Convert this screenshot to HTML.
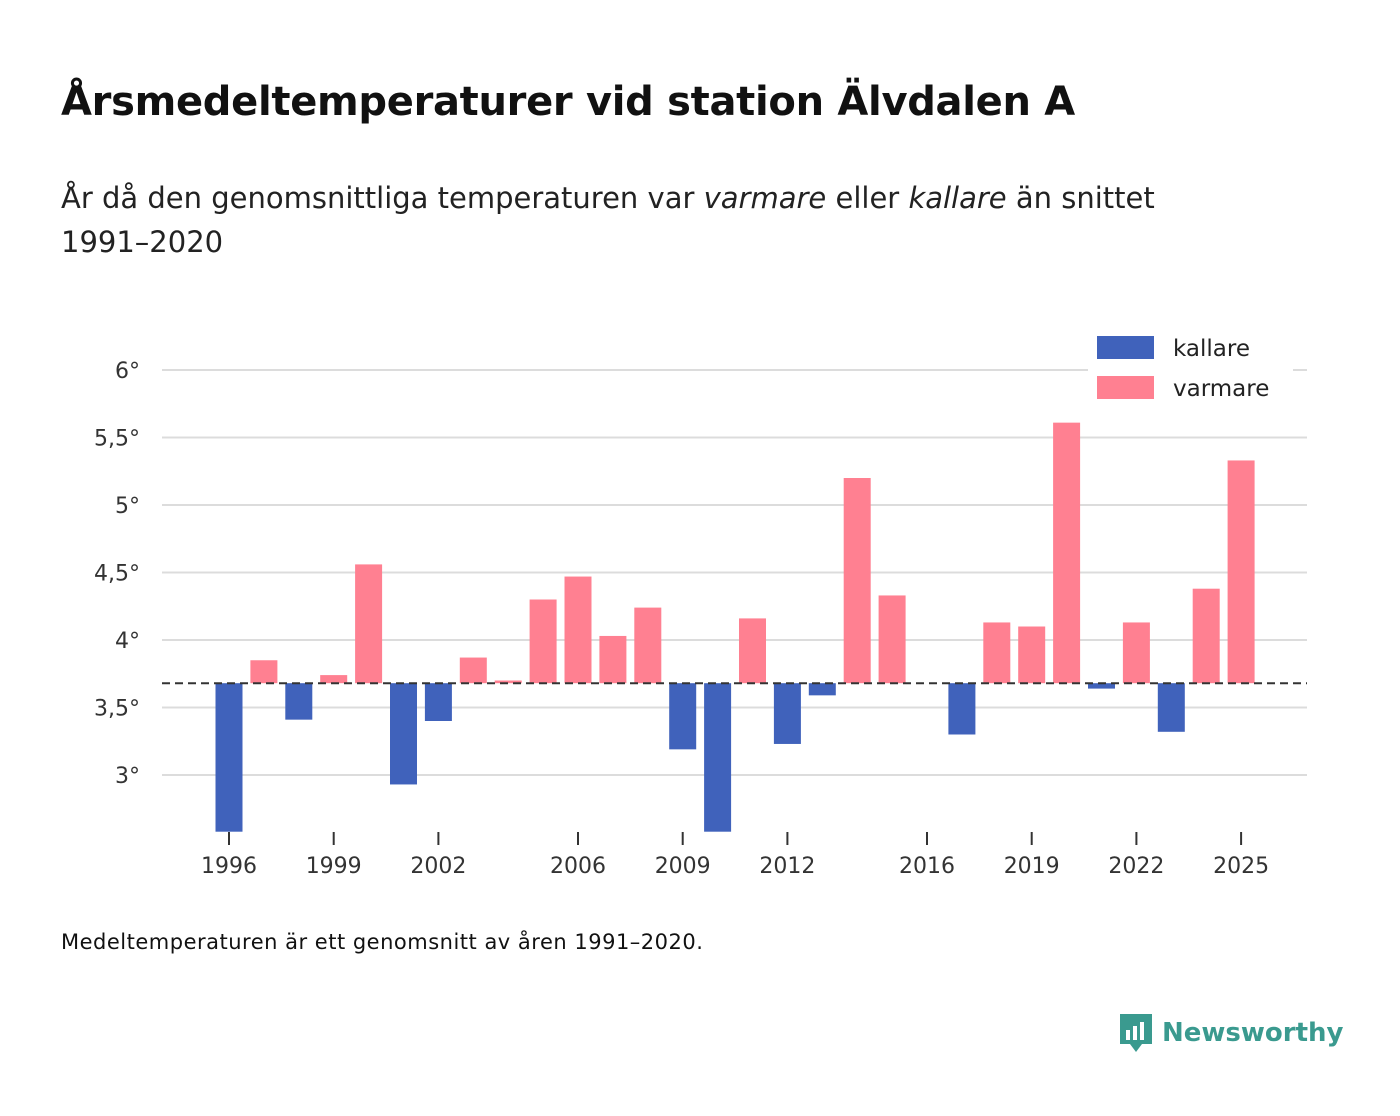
<!DOCTYPE html>
<html><head><meta charset="utf-8"><style>
body{margin:0;width:1400px;height:1116px;background:#fff;font-family:"DejaVu Sans","Liberation Sans",sans-serif;color:#111;position:relative;overflow:hidden}
.t{position:absolute;left:61px;top:79px;font-size:40px;font-weight:bold;letter-spacing:-0.3px}
.s{position:absolute;left:61px;top:176px;font-size:29px;line-height:44px;width:1190px;color:#222}
.f{position:absolute;left:61px;top:930px;font-size:21px;color:#111;letter-spacing:0.5px}
.logo{position:absolute;left:1118px;top:1012px;font-size:26px;font-weight:bold;color:#3a9a8f;display:flex;align-items:center;gap:8px}
</style></head><body>
<div class="t">Årsmedeltemperaturer vid station Älvdalen A</div>
<div class="s">År då den genomsnittliga temperaturen var <i>varmare</i> eller <i>kallare</i> än snittet<br>1991–2020</div>
<svg id="c" width="1400" height="1116" style="position:absolute;left:0;top:0"></svg>
<div class="f">Medeltemperaturen är ett genomsnitt av åren 1991–2020.</div>
<div class="logo"><svg width="36" height="42" viewBox="0 0 36 42"><path d="M2 2h32v30H24l-6 8-6-8H2z" fill="#3a9a8f"/><rect x="8" y="18" width="4" height="10" fill="#fff"/><rect x="15" y="14" width="4" height="14" fill="#fff"/><rect x="22" y="10" width="4" height="18" fill="#fff"/></svg>Newsworthy</div>
<script>
const years=[1996,1997,1998,1999,2000,2001,2002,2003,2004,2005,2006,2007,2008,2009,2010,2011,2012,2013,2014,2015,2016,2017,2018,2019,2020,2021,2022,2023,2024,2025];
const temps=[2.58,3.85,3.41,3.74,4.56,2.93,3.40,3.87,3.70,4.30,4.47,4.03,4.24,3.19,2.58,4.16,3.23,3.59,5.20,4.33,null,3.30,4.13,4.10,5.61,3.64,4.13,3.32,4.38,5.33];
const baseline=3.68;
const yTicks=[3,3.5,4,4.5,5,5.5,6];
const yLabels=["3°","3,5°","4°","4,5°","5°","5,5°","6°"];
const xTicks=[1996,1999,2002,2006,2009,2012,2016,2019,2022,2025];
const NS="http://www.w3.org/2000/svg",svg=document.getElementById('c');
const x=y=>229+(y-1996)*34.9, Y=v=>370+(6-v)*135;
function mk(t,a){const e=document.createElementNS(NS,t);for(const k in a)e.setAttribute(k,a[k]);svg.appendChild(e);return e;}
yTicks.forEach((v,i)=>{
 const g=mk('line',{x1:162,x2:1307,y1:Y(v),y2:Y(v),stroke:'#dcdcdc','stroke-width':2});
 
 
 const t=mk('text',{x:140,y:Y(v)+8,'text-anchor':'end','font-size':22,fill:'#333'});t.textContent=yLabels[i];
 
 
});
xTicks.forEach(yr=>{
 const l=mk('line',{x1:x(yr),x2:x(yr),y1:832,y2:845,stroke:'#333','stroke-width':2});
 
 
 const t=mk('text',{x:x(yr),y:873,'text-anchor':'middle','font-size':22,fill:'#333'});t.textContent=yr;
 
 
});
years.forEach((yr,i)=>{
 const v=temps[i];if(v==null)return;
 const top=Math.min(Y(v),Y(baseline)),h=Math.abs(Y(v)-Y(baseline));
 const r=mk('rect',{x:x(yr)-13.5,y:top,width:27,height:h,fill:v<baseline?'#4062bb':'#ff8091'});
 
 
});
const b=mk('line',{x1:162,x2:1307,y1:Y(baseline),y2:Y(baseline),stroke:'#333','stroke-width':2,'stroke-dasharray':'8,5'});


const bg=mk('rect',{x:1088,y:330,width:205,height:82,fill:'#fff'});


[['kallare','#4062bb',336],['varmare','#ff8091',376]].forEach(([n,c,yy])=>{
 const r=mk('rect',{x:1097,y:yy,width:57,height:23,fill:c});
 
 
 const t=mk('text',{x:1173,y:yy+20,'font-size':23,fill:'#222'});t.textContent=n;
 
 
});
</script>
</body></html>
